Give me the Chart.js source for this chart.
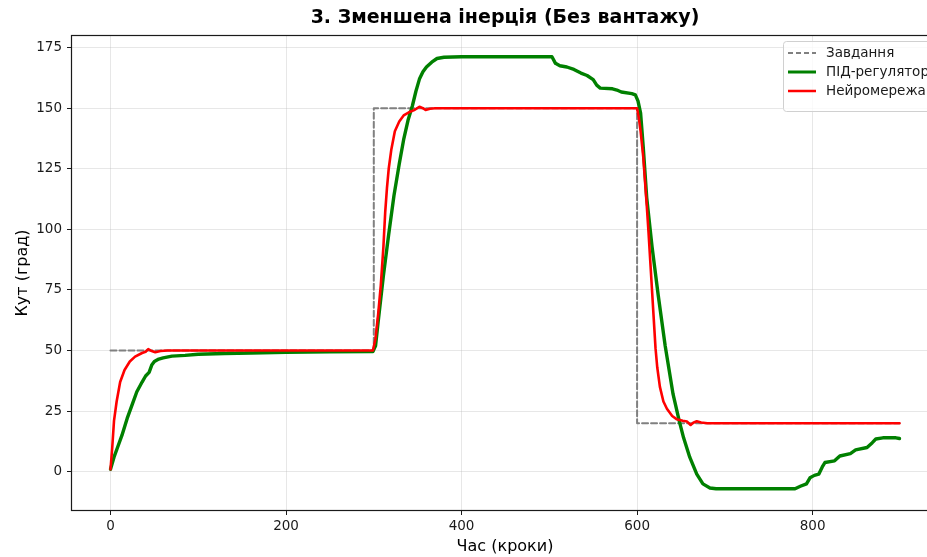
<!DOCTYPE html>
<html>
<head>
<meta charset="utf-8">
<script src="https://cdn.jsdelivr.net/npm/chart.js@4.4.0/dist/chart.umd.min.js"></script>
<style>
  html, body { margin: 0; padding: 0; overflow: hidden; background: #fff; }
  #wrap { width: 940px; height: 557px; }
</style>
</head>
<body>
<div id="wrap"><canvas id="chart" width="940" height="557"></canvas></div>
<script>
// values
const titleText = '3. Зменшена інерція (Без вантажу)';
const xLabel = 'Час (кроки)';
const yLabel = 'Кут (град)';
const seriesNames = ['Завдання', 'ПІД-регулятор', 'Нейромережа'];

const xTicks = [0, 200, 400, 600, 800];
const yTicks = [0, 25, 50, 75, 100, 125, 150, 175];

const setpointSteps = [0, 300, 300, 600, 600, 899];
const setpointValues = [50, 50, 150, 150, 20, 20];

const pidSteps = [0, 4, 8, 13, 19, 25, 30, 36, 40, 44, 47, 50, 55, 60, 70, 85, 100, 130, 160, 200, 250, 299,
  302, 305, 311, 317, 323, 329, 334, 339, 344, 348, 352, 356, 360, 366, 372, 380, 400, 450, 503,
  507, 512, 520, 528, 536, 543, 550, 554, 558, 572, 577, 582, 594, 598,
  601, 604, 607, 611, 617, 624, 632, 641, 648, 653, 660, 668, 675, 683, 690, 780,
  786, 793, 797, 802, 807, 811, 814, 825, 831, 843, 849, 862, 868, 872, 880, 895, 899];
const pidValues = [1, 6, 10, 15, 22, 28, 33, 37, 39.5, 41, 44, 45.5, 46.5, 47, 47.7, 48, 48.5, 48.8, 49, 49.3, 49.5, 49.6,
  52, 62, 81, 98, 114, 127, 137, 145, 151, 157, 162, 165, 167, 169, 170.5, 171, 171.2, 171.2, 171.2,
  168.5, 167.5, 167, 166, 164.5, 163.5, 161.8, 159.5, 158.3, 158, 157.5, 156.7, 156, 155.5,
  153, 148, 134, 113, 93, 73, 52, 32, 21, 14, 6, -1, -5, -6.7, -7, -7,
  -6, -5, -2.5, -1.5, -1, 2, 3.8, 4.5, 6.5, 7.5, 9, 10, 12, 13.5, 14, 14, 13.7];

const nnSteps = [0, 2, 4, 7, 11, 16, 22, 28, 36, 40, 43, 47, 51, 57, 65, 299,
  302, 305, 308, 311, 313, 315, 317, 320, 324, 329, 334, 340, 346, 352, 356, 359, 364, 370, 600,
  602, 604, 607, 609, 611, 613, 615, 617, 619, 621, 623, 626, 630, 634, 640, 645, 652, 657, 661, 664, 668, 673, 680, 899];
const nnValues = [1, 10, 21, 29, 37, 42, 45.5, 47.5, 49, 49.5, 50.6, 49.8, 49.3, 49.8, 50, 50,
  55, 65, 77, 93, 107, 117, 125, 133, 140.5, 144.5, 147, 148.3, 149.2, 150.6, 150, 149.3, 149.8, 150, 150,
  146, 140.5, 130, 120, 110, 99, 87, 75, 63, 51, 43, 35, 29, 26, 23, 21.7, 21, 20.7, 19.3, 20.2, 20.8, 20.3, 20, 20];

function points(xs, ys) {
  return xs.map((x, i) => ({ x: x, y: ys[i] }));
}

const FONT = 'DejaVu Sans';
const INK = '#1a1a1a';

// axes frame, title and legend (matplotlib look)
const decor = {
  id: 'decor',
  afterDraw(chart) {
    const { ctx, chartArea: a } = chart;
    ctx.save();
    ctx.strokeStyle = INK;
    ctx.lineWidth = 1.2;
    ctx.strokeRect(a.left + 0.5, a.top + 0.5, a.right - a.left - 1, a.bottom - a.top - 1);

    ctx.fillStyle = '#000';
    ctx.font = 'bold 19px "' + FONT + '"';
    ctx.textAlign = 'center';
    ctx.textBaseline = 'middle';
    ctx.fillText(titleText, (a.left + a.right) / 2, 18);

    // legend box
    const lx = 783, ly = 41, lw = 155, lh = 70;
    ctx.fillStyle = 'rgba(255,255,255,0.8)';
    ctx.strokeStyle = '#d0d0d0';
    ctx.lineWidth = 1;
    ctx.beginPath();
    ctx.roundRect(lx + 0.5, ly + 0.5, lw, lh, 3);
    ctx.fill();
    ctx.stroke();

    const rows = [53, 72, 91];
    const styles = [
      { color: '#808080', width: 2, dash: [5, 3] },
      { color: '#008000', width: 3, dash: [] },
      { color: '#ff0000', width: 2.5, dash: [] }
    ];
    ctx.font = '13.5px "' + FONT + '"';
    ctx.textAlign = 'left';
    rows.forEach((y, i) => {
      const s = styles[i];
      ctx.strokeStyle = s.color;
      ctx.lineWidth = s.width;
      ctx.setLineDash(s.dash);
      ctx.beginPath();
      ctx.moveTo(788, y);
      ctx.lineTo(816, y);
      ctx.stroke();
      ctx.setLineDash([]);
      ctx.fillStyle = INK;
      ctx.fillText(seriesNames[i], 826, y);
    });
    ctx.restore();
  }
};

new Chart(document.getElementById('chart'), {
  type: 'line',
  data: {
    datasets: [{
      label: seriesNames[0],
      data: points(setpointSteps, setpointValues),
      borderColor: '#808080',
      borderWidth: 2,
      borderDash: [6, 3],
      order: 3
    }, {
      label: seriesNames[1],
      data: points(pidSteps, pidValues),
      borderColor: '#008000',
      borderWidth: 3.4,
      order: 2
    }, {
      label: seriesNames[2],
      data: points(nnSteps, nnValues),
      borderColor: '#ff0000',
      borderWidth: 2.6,
      order: 1
    }]
  },
  options: {
    responsive: false,
    animation: false,
    events: [],
    elements: { point: { radius: 0 }, line: { tension: 0, borderCapStyle: 'round', borderJoinStyle: 'round' } },
    layout: { padding: { top: 35, right: 1, bottom: 0, left: 0 } },
    plugins: {
      legend: { display: false },
      title: { display: false },
      tooltip: { enabled: false }
    },
    scales: {
      x: {
        type: 'linear',
        min: -45,
        max: 944,
        afterBuildTicks: s => { s.ticks = xTicks.map(v => ({ value: v })); },
        afterFit: s => { s.height = 46; },
        grid: { color: 'rgba(176,176,176,0.3)', tickColor: INK, tickLength: 4 },
        border: { display: false },
        ticks: { color: INK, font: { family: FONT, size: 13.5 }, padding: 3, maxRotation: 0 },
        title: { display: true, text: xLabel, color: '#000', font: { family: FONT, size: 16 }, padding: { top: 0, bottom: 1 } }
      },
      y: {
        type: 'linear',
        min: -16.2,
        max: 180.2,
        afterBuildTicks: s => { s.ticks = yTicks.map(v => ({ value: v })); },
        afterFit: s => { s.width = 71; },
        grid: { color: 'rgba(176,176,176,0.3)', tickColor: INK, tickLength: 4 },
        border: { display: false },
        ticks: { color: INK, font: { family: FONT, size: 13.5 }, padding: 5 },
        title: { display: true, text: yLabel, color: '#000', font: { family: FONT, size: 16 }, padding: { top: 13, bottom: 0 } }
      }
    }
  },
  plugins: [decor]
});
</script>
</body>
</html>
